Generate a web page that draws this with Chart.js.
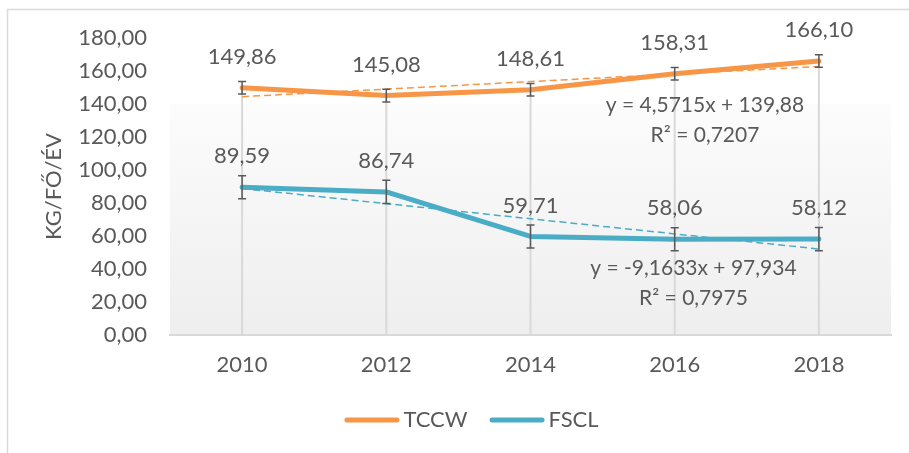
<!DOCTYPE html>
<html>
<head>
<meta charset="utf-8">
<script src="https://cdn.jsdelivr.net/npm/chart.js@4/dist/chart.umd.min.js"></script>
<style>
  html, body { margin: 0; padding: 0; background: #ffffff; }
  #wrap { width: 909px; height: 453px; position: relative; }
</style>
</head>
<body>
<div id="wrap"><canvas id="c" width="909" height="453"></canvas></div>
<script>
// ---- data ----
const categories = ['2010', '2012', '2014', '2016', '2018'];
const tccwValues = [149.86, 145.08, 148.61, 158.31, 166.10];
const fsclValues = [89.59, 86.74, 59.71, 58.06, 58.12];
const tccwErrors = [3.8, 3.8, 3.8, 3.8, 3.8];
const fsclErrors = [7, 7, 7, 7, 7];
const tccwTrend = [144.45, 149.02, 153.59, 158.17, 162.74];
const fsclTrend = [88.77, 79.61, 70.44, 61.28, 52.12];
const tccwEquation = ['y = 4,5715x + 139,88', 'R² = 0,7207'];
const fsclEquation = ['y = -9,1633x + 97,934', 'R² = 0,7975'];
const seriesNames = ['TCCW', 'FSCL'];
const yTitle = 'KG/FŐ/ÉV';
const yMin = 0, yMax = 180, yStep = 20;

const ORANGE = '#F79646';
const BLUE = '#4BACC6';
const TEXT = '#595959';
const FONT = 'Lato, "Open Sans", sans-serif';
const FS = 22;

const fmt = v => v.toFixed(2).replace('.', ',');

const decor = {
  id: 'decor',
  beforeDraw(chart) {
    const ctx = chart.ctx;
    ctx.save();
    ctx.fillStyle = '#ffffff';
    ctx.fillRect(0, 0, chart.width, chart.height);
    // outer frame (top/left visible)
    ctx.strokeStyle = '#d9d9d9';
    ctx.lineWidth = 1.5;
    ctx.beginPath();
    ctx.moveTo(7.5, chart.height);
    ctx.lineTo(7.5, 9.5);
    ctx.lineTo(chart.width, 9.5);
    ctx.stroke();
    // plot area gradient
    const a = chart.chartArea;
    const ys = chart.scales.y;
    const top = ys.getPixelForValue(140);
    const g = ctx.createLinearGradient(0, top, 0, a.bottom);
    g.addColorStop(0, '#fcfcfc');
    g.addColorStop(1, '#eeeeee');
    ctx.fillStyle = g;
    ctx.fillRect(a.left, top, a.right - a.left, a.bottom - top);
    ctx.restore();
  },
  beforeDatasetsDraw(chart) {
    // drop lines
    const ctx = chart.ctx;
    const xs = chart.scales.x, ys = chart.scales.y;
    ctx.save();
    ctx.strokeStyle = '#d9d9d9';
    ctx.lineWidth = 2;
    categories.forEach((c, i) => {
      const x = xs.getPixelForValue(i);
      const topV = Math.max(tccwValues[i], fsclValues[i]);
      ctx.beginPath();
      ctx.moveTo(x, ys.getPixelForValue(topV));
      ctx.lineTo(x, ys.getPixelForValue(0));
      ctx.stroke();
    });
    ctx.restore();
  },
  afterDatasetsDraw(chart) {
    const ctx = chart.ctx;
    const xs = chart.scales.x, ys = chart.scales.y;
    ctx.save();
    // error bars
    ctx.strokeStyle = '#595959';
    ctx.lineWidth = 1.5;
    const drawErr = (vals, errs) => {
      vals.forEach((v, i) => {
        const x = xs.getPixelForValue(i);
        const y1 = ys.getPixelForValue(v + errs[i]);
        const y2 = ys.getPixelForValue(v - errs[i]);
        ctx.beginPath();
        ctx.moveTo(x, y1); ctx.lineTo(x, y2);
        ctx.moveTo(x - 4, y1); ctx.lineTo(x + 4, y1);
        ctx.moveTo(x - 4, y2); ctx.lineTo(x + 4, y2);
        ctx.stroke();
      });
    };
    drawErr(tccwValues, tccwErrors);
    drawErr(fsclValues, fsclErrors);
    // data labels
    ctx.fillStyle = TEXT;
    ctx.font = FS + 'px ' + FONT;
    ctx.textAlign = 'center';
    ctx.textBaseline = 'middle';
    const drawLabels = vals => vals.forEach((v, i) => {
      ctx.fillText(fmt(v), xs.getPixelForValue(i), ys.getPixelForValue(v) - 31);
    });
    drawLabels(tccwValues);
    drawLabels(fsclValues);
    // trend equations
    ctx.font = '21px ' + FONT;
    const step = xs.getPixelForValue(4) - xs.getPixelForValue(3);
    const xEq1 = xs.getPixelForValue(3) + 0.21 * step;
    ctx.fillText(tccwEquation[0], xEq1, ys.getPixelForValue(139.4));
    ctx.fillText(tccwEquation[1], xEq1, ys.getPixelForValue(121.2));
    const xEq2 = xs.getPixelForValue(3) + 0.13 * step;
    ctx.fillText(fsclEquation[0], xEq2, ys.getPixelForValue(40.6));
    ctx.fillText(fsclEquation[1], xEq2, ys.getPixelForValue(22.4));
    // legend
    ctx.font = FS + 'px ' + FONT;
    const colors = [ORANGE, BLUE];
    const lineLen = 55, gapText = 4, gapItem = 22;
    const widths = seriesNames.map(n => lineLen + gapText + ctx.measureText(n).width);
    const total = widths.reduce((s, w) => s + w, 0) + gapItem * (seriesNames.length - 1);
    let lx = chart.width / 2 + 17 - total / 2;
    const ly = 420;
    ctx.textAlign = 'left';
    seriesNames.forEach((n, i) => {
      ctx.strokeStyle = colors[i];
      ctx.lineWidth = 5;
      ctx.lineCap = 'round';
      ctx.beginPath();
      ctx.moveTo(lx + 2.5, ly); ctx.lineTo(lx + lineLen - 2.5, ly);
      ctx.stroke();
      ctx.fillStyle = TEXT;
      ctx.fillText(n, lx + lineLen + gapText, ly);
      lx += widths[i] + gapItem;
    });
    ctx.restore();
  }
};

new Chart(document.getElementById('c'), {
  type: 'line',
  data: {
    labels: categories,
    datasets: [
      { label: 'TCCW trend', data: tccwTrend, borderColor: ORANGE, borderWidth: 1.5, borderDash: [7, 4], pointRadius: 0, fill: false, tension: 0 },
      { label: 'FSCL trend', data: fsclTrend, borderColor: BLUE, borderWidth: 1.5, borderDash: [7, 4], pointRadius: 0, fill: false, tension: 0 },
      { label: seriesNames[0], data: tccwValues, borderColor: ORANGE, borderWidth: 5, pointRadius: 0, fill: false, tension: 0, borderCapStyle: 'round', borderJoinStyle: 'round' },
      { label: seriesNames[1], data: fsclValues, borderColor: BLUE, borderWidth: 5, pointRadius: 0, fill: false, tension: 0, borderCapStyle: 'round', borderJoinStyle: 'round' }
    ]
  },
  options: {
    responsive: false,
    animation: false,
    devicePixelRatio: 1,
    layout: { padding: { top: 38, right: 18, bottom: 0, left: 0 } },
    plugins: { legend: { display: false }, tooltip: { enabled: false } },
    scales: {
      x: {
        type: 'category',
        offset: true,
        grid: { display: false, drawTicks: false },
        border: { display: true, color: '#d9d9d9', width: 2 },
        ticks: { color: TEXT, font: { family: FONT, size: FS }, padding: 17, maxRotation: 0 },
        afterFit(s) { s.height = 118; }
      },
      y: {
        min: yMin, max: yMax,
        grid: { display: false, drawTicks: false },
        border: { display: false },
        ticks: { stepSize: yStep, color: TEXT, font: { family: FONT, size: FS }, padding: 23, callback: v => fmt(v) },
        title: { display: true, text: yTitle, color: TEXT, font: { family: FONT, size: FS }, padding: { top: 41, bottom: 0 } },
        afterFit(s) { s.width = 170; }
      }
    }
  },
  plugins: [decor]
});
</script>
</body>
</html>
